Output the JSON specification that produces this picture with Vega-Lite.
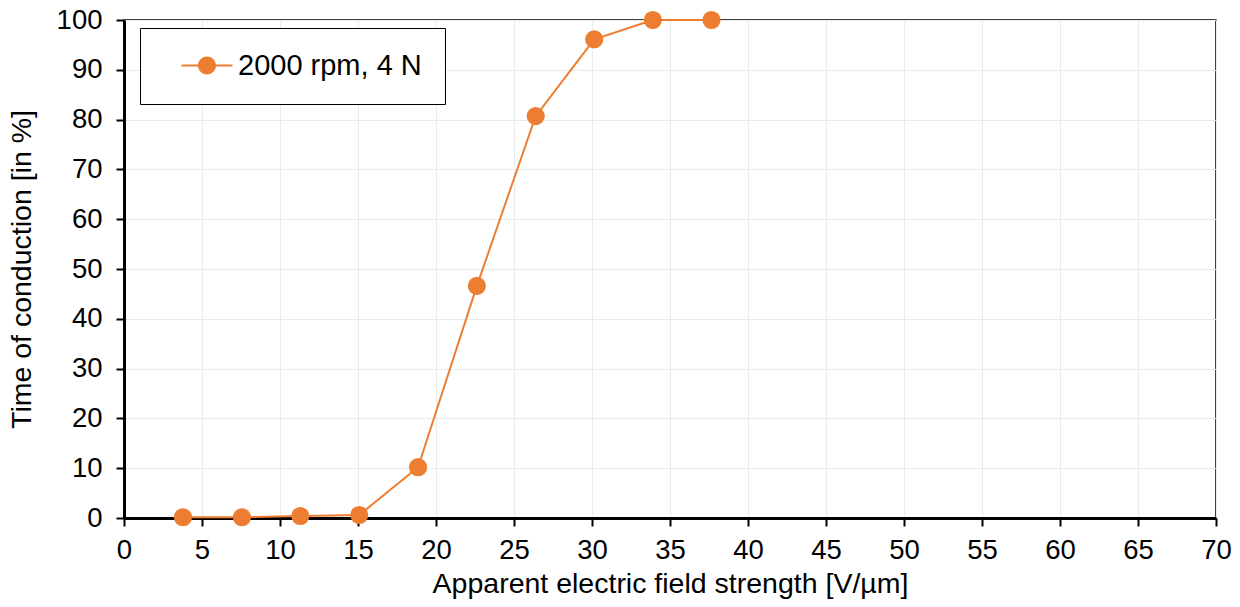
{
  "$schema": "https://vega.github.io/schema/vega-lite/v6.json",
  "width": 1092,
  "height": 498,
  "autosize": {"type": "none"},
  "padding": {"left": 124, "top": 20, "right": 24, "bottom": 89},
  "background": "white",
  "config": {
    "font": "Liberation Sans",
    "view": {"stroke": "black", "strokeWidth": 1.5},
    "axis": {
      "domainColor": "black",
      "domainWidth": 3,
      "tickColor": "black",
      "tickWidth": 2,
      "tickSize": 8,
      "gridColor": "#EBEBEB",
      "gridWidth": 1,
      "labelFont": "Liberation Sans",
      "labelFontSize": 27.5,
      "labelColor": "black",
      "titleFont": "Liberation Sans",
      "titleFontSize": 28.5,
      "titleFontWeight": "normal",
      "titleColor": "black"
    }
  },
  "data": {
    "values": [
      {"E": 3.78, "t": 0.15, "series": "2000 rpm, 4 N"},
      {"E": 7.56, "t": 0.15, "series": "2000 rpm, 4 N"},
      {"E": 11.3, "t": 0.4, "series": "2000 rpm, 4 N"},
      {"E": 15.08, "t": 0.6, "series": "2000 rpm, 4 N"},
      {"E": 18.85, "t": 10.2, "series": "2000 rpm, 4 N"},
      {"E": 22.62, "t": 46.6, "series": "2000 rpm, 4 N"},
      {"E": 26.39, "t": 80.7, "series": "2000 rpm, 4 N"},
      {"E": 30.14, "t": 96.1, "series": "2000 rpm, 4 N"},
      {"E": 33.9, "t": 100, "series": "2000 rpm, 4 N"},
      {"E": 37.66, "t": 100, "series": "2000 rpm, 4 N"}
    ]
  },
  "encoding": {
    "x": {
      "field": "E",
      "type": "quantitative",
      "scale": {"domain": [0, 70], "nice": false, "zero": true},
      "axis": {
        "title": "Apparent electric field strength [V/µm]",
        "values": [0,5,10,15,20,25,30,35,40,45,50,55,60,65,70],
        "labelPadding": 10,
        "titlePadding": 6,
        "labelFlush": false,
        "labelOverlap": false
      }
    },
    "y": {
      "field": "t",
      "type": "quantitative",
      "scale": {"domain": [0, 100], "nice": false},
      "axis": {
        "title": "Time of conduction [in %]",
        "values": [0,10,20,30,40,50,60,70,80,90,100],
        "labelPadding": 14,
        "titlePadding": 20,
        "labelFlush": false,
        "labelOverlap": false
      }
    }
  },
  "layer": [
    {
      "mark": {"type": "line", "color": "#ED7D31", "strokeWidth": 2}
    },
    {
      "mark": {"type": "point", "filled": true, "opacity": 1, "size": 330},
      "encoding": {
        "color": {
          "field": "series",
          "type": "nominal",
          "scale": {"range": ["#ED7D31"]},
          "legend": {
            "title": null,
            "orient": "none",
            "legendX": 16,
            "legendY": 8,
            "padding": 23,
            "strokeColor": "black",
            "fillColor": "white",
            "symbolType": "M-2.55,-0.1H2.55V0.1H-2.55Z M-0.9,0A0.9,0.9 0 1,1 0.9,0A0.9,0.9 0 1,1 -0.9,0Z",
            "symbolSize": 400,
            "symbolOffset": 29.5,
            "labelOffset": 16.5,
            "labelFontSize": 29,
            "labelFont": "Liberation Sans",
            "labelColor": "black",
            "labelLimit": 400,
            "labelExpr": "datum.label + '\u2002'",
            "encode": {
              "legend": {
                "update": {
                  "strokeWidth": {"value": 1.5}
                }
              },
              "symbols": {
                "update": {
                  "shape": {"value": "M-2.55,-0.1H2.55V0.1H-2.55Z M-0.9,0A0.9,0.9 0 1,1 0.9,0A0.9,0.9 0 1,1 -0.9,0Z"},
                  "size": {"value": 400},
                  "fill": {"value": "#ED7D31"},
                  "opacity": {"value": 1},
                  "fillOpacity": {"value": 1},
                  "strokeWidth": {"value": 0}
                }
              }
            }
          }
        }
      }
    }
  ]
}
